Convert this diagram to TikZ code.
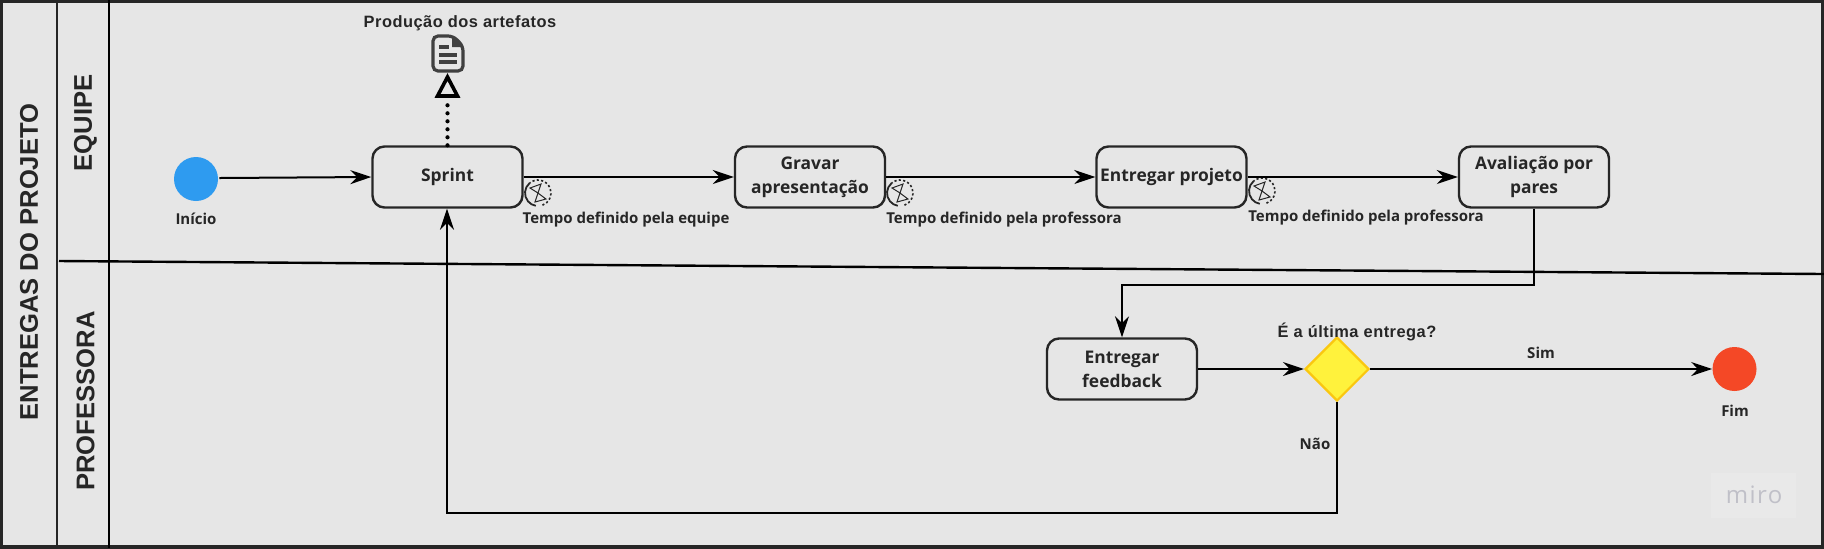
\documentclass[tikz,border=0pt]{standalone}
\usepackage{fontspec}
\setmainfont{Open Sans}
\newfontfamily\arialf[LetterSpace=3]{Liberation Sans}
\newfontfamily\lanef{Liberation Sans}
\usetikzlibrary{arrows.meta,calc,shapes.geometric}
\definecolor{bgc}{HTML}{E6E6E6}
\definecolor{ink}{HTML}{262626}
\definecolor{docink}{HTML}{404040}
\tikzset{
 x=0.5pt,y=-0.5pt,
 task/.style={draw=ink,line width=1.2pt,rounded corners=6pt,minimum width=75pt,minimum height=30.5pt,align=center,inner sep=0pt,font=\fontsize{8.7}{12.1}\selectfont\bfseries,text=ink},
 lab/.style={inner sep=0pt,font=\fontsize{7.5}{9}\selectfont\bfseries,text=ink},
 alab/.style={inner sep=0pt,font=\arialf\fontsize{8.2}{9}\selectfont\bfseries,text=ink},
 lane/.style={inner sep=0pt,rotate=90,font=\lanef\fontsize{12.8}{14}\selectfont\bfseries,text=ink},
 flow/.style={black,line width=1pt,-{Stealth[length=10.5pt,width=7pt]}},
 ev/.style={circle,minimum size=22pt,inner sep=0pt},
}
\newcommand{\timer}[2]{%
 \begin{scope}[shift={(#1,#2)}]
  \draw[ink,line width=.8pt,dash pattern=on 1.1pt off 1.1pt] (70:13) arc (70:-130:13);
  \draw[ink,line width=.9pt] (-130:13) arc (230:100:13);
  \draw[ink,line width=.5pt] (-8,-5)--(3,-9)--(0,0)--(8,6)--(-3,9)--(0,0)--cycle;
 \end{scope}}
\begin{document}
\begin{tikzpicture}
\useasboundingbox (0,0) rectangle (1824,548);
\fill[bgc] (0,0) rectangle (1824,548);
\draw[ink,line width=1.6pt] (1,1) rectangle (1823,547);
\draw[ink,line width=1.2pt] (57,0) -- (57,548);
\draw[black,line width=1.2pt] (109,0) -- (109,548);
\coordinate (hl) at (59,261); \coordinate (hr) at (1824,274);
\draw[black,line width=1.2pt] (hl) -- (hr);
\node[lane] (pool) at (29,262) {ENTREGAS DO PROJETO};
\node[lane] (l1) at (85.5,123) {EQUIPE};
\node[lane] (l2) at (85.5,401) {PROFESSORA};

\node[ev,fill={rgb,255:red,46;green,155;blue,240}] (start) at (196,179) {};
\node[lab] (tstart) at (196,219) {Início};
\node[task] (sprint) at (447.5,177) {Sprint};
\node[task] (gravar) at (810,177) {Gravar\\apresentação};
\node[task] (entp) at (1171.5,177) {Entregar projeto};
\node[task] (aval) at (1534,177) {Avaliação por\\pares};
\node[task] (feed) at (1122,369) {Entregar\\feedback};
\node[diamond,aspect=1,draw={rgb,255:red,250;green,199;blue,16},fill={rgb,255:red,255;green,242;blue,60},line width=1.1pt,minimum width=32pt,minimum height=32pt,inner sep=0pt] (gw) at (1337,369) {};
\node[ev,fill={rgb,255:red,244;green,72;blue,38}] (fim) at (1734.5,369) {};
\node[lab] (tfim) at (1735,411) {Fim};
\node[alab] (art) at (460,23.5) {Produção dos artefatos};
\node[alab] (q) at (1357,332) {É a última entrega?};
\node[lab] (t1) at (626,220) {Tempo definido pela equipe};
\node[lab] (t2) at (1004,220) {Tempo definido pela professora};
\node[lab] (t3) at (1366,218) {Tempo definido pela professora};
\node[lab] (sim) at (1541,353) {Sim};
\node[lab] (nao) at (1315,444) {Não};
\timer{538}{193}
\timer{900}{193}
\timer{1262}{191}

% document icon
\node[minimum width=16pt,minimum height=19pt,inner sep=0pt] (doc) at (447.5,53) {};
\draw[docink,line width=1.6pt,fill=bgc,rounded corners=2.5pt] (433,36) -- (453,36) -- (463,46) -- (463,71) -- (433,71) -- cycle;
\fill[docink] (452,36) -- (463,47) -- (452,47) -- cycle;
\draw[docink,line width=1.7pt] (439,47) -- (449,47) (439,55) -- (457,55) (439,62) -- (457,62);

\draw[flow] ($(start.east)+(1,-1)$) -- (sprint.west);
\draw[flow] (sprint.east) -- (gravar.west);
\draw[flow] (gravar.east) -- (entp.west);
\draw[flow] (entp.east) -- (aval.west);
\coordinate (c2) at (1534,285);
\draw[flow] (aval.south) -- (c2) -| (feed.north);
\draw[flow] (feed.east) -- (gw.west);
\draw[flow] (gw.east) -- (fim.west);
\coordinate (c1) at (447,513);
\draw[flow] (gw.south) |- (c1) -- (c1 |- sprint.south);
\draw[black,line width=2.1pt,dash pattern=on 0pt off 4pt,line cap=round] (sprint.north) -- (447.5,98);
\draw[black,line width=1.8pt,fill=bgc,line join=miter] (447.5,77) -- (457.5,96) -- (437.5,96) -- cycle;

\fill[white,opacity=.15] (1711,473) rectangle (1796,518);
\node[inner sep=0pt,font=\fontsize{12}{12}\selectfont\addfontfeature{LetterSpace=6},text={rgb,255:red,192;green,192;blue,200}] (miro) at (1754,495) {miro};
\end{tikzpicture}
\end{document}
